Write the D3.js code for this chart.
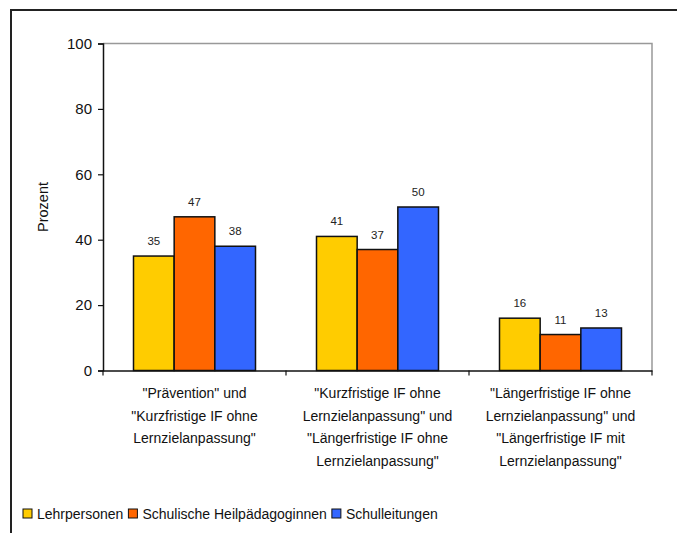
<!DOCTYPE html>
<html>
<head>
<meta charset="utf-8">
<script src="https://cdn.jsdelivr.net/npm/d3@7"></script>
<style>
  html, body { margin: 0; padding: 0; background: #fff; }
  svg { display: block; font-family: "Liberation Sans", Arial, sans-serif; }
</style>
</head>
<body>
<svg id="chart" width="677" height="533"></svg>
<script>
const categories = [
  ["\"Prävention\" und", "\"Kurzfristige IF ohne", "Lernzielanpassung\""],
  ["\"Kurzfristige IF ohne", "Lernzielanpassung\" und", "\"Längerfristige IF ohne", "Lernzielanpassung\""],
  ["\"Längerfristige IF ohne", "Lernzielanpassung\" und", "\"Längerfristige IF mit", "Lernzielanpassung\""]
];
const seriesNames = ["Lehrpersonen", "Schulische Heilpädagoginnen", "Schulleitungen"];
const lehrpersonen = [35, 41, 16];
const heilpaedagoginnen = [47, 37, 11];
const schulleitungen = [38, 50, 13];
const yTicks = [0, 20, 40, 60, 80, 100];
const colors = ["#FFCC00", "#FF6600", "#3366FF"];

const seriesValues = [lehrpersonen, heilpaedagoginnen, schulleitungen];
const svg = d3.select("#chart");

// outer frame
svg.append("rect").attr("x", 11).attr("y", 10).attr("width", 700).attr("height", 560)
  .attr("fill", "none").attr("stroke", "#222").attr("stroke-width", 2);

const m = {left: 103, top: 43.5, right: 652, bottom: 370.5};
const x0 = d3.scaleBand().domain(d3.range(categories.length)).range([m.left, m.right]).paddingInner(0).paddingOuter(0);
const x1 = d3.scaleBand().domain(d3.range(seriesNames.length)).range([0, x0.bandwidth()]).paddingInner(0).paddingOuter(0.75);
const y = d3.scaleLinear().domain([0, 100]).range([m.bottom, m.top]);

// plot area border (top/right gray)
svg.append("path")
  .attr("d", `M${m.left},${m.top}H${m.right}V${m.bottom}`)
  .attr("fill", "none").attr("stroke", "#999").attr("stroke-width", 1.5);

// bars
const groups = svg.append("g").selectAll("g").data(categories).join("g")
  .attr("transform", (d, i) => `translate(${x0(i)},0)`);
groups.each(function(d, ci) {
  const g = d3.select(this);
  seriesValues.forEach((vals, si) => {
    g.append("rect")
      .attr("x", x1(si)).attr("y", y(vals[ci]))
      .attr("width", x1.bandwidth()).attr("height", y(0) - y(vals[ci]))
      .attr("fill", colors[si]).attr("stroke", "#111").attr("stroke-width", 1.5);
    g.append("text")
      .attr("x", x1(si) + x1.bandwidth() / 2).attr("y", y(vals[ci]) - 11)
      .attr("text-anchor", "middle").attr("font-size", 11.5).attr("fill", "#222")
      .text(vals[ci]);
  });
});

// y axis
const yAxis = d3.axisLeft(y).tickValues(yTicks).tickSize(5).tickPadding(6);
const ya = svg.append("g").attr("transform", `translate(${m.left},0)`).call(yAxis);
ya.select(".domain").attr("stroke", "#111").attr("stroke-width", 1.5);
ya.selectAll(".tick line").attr("stroke", "#111").attr("stroke-width", 1.2);
ya.selectAll(".tick text").attr("font-size", 15).attr("fill", "#111")
  .attr("font-family", "Liberation Sans, Arial, sans-serif");

// x axis
const xAxis = d3.axisBottom(x0).tickSize(0).tickFormat("");
const xa = svg.append("g").attr("transform", `translate(0,${m.bottom})`).call(xAxis);
xa.select(".domain").attr("stroke", "#111").attr("stroke-width", 1.5);
xa.selectAll(".tick").remove();
const bounds = d3.range(categories.length + 1).map(i => i < categories.length ? x0(i) : x0(i - 1) + x0.bandwidth());
svg.append("g").selectAll("line").data(bounds).join("line")
  .attr("x1", d => d).attr("x2", d => d).attr("y1", m.bottom).attr("y2", m.bottom + 5)
  .attr("stroke", "#111").attr("stroke-width", 1.2);

// category labels
categories.forEach((lines, i) => {
  const t = svg.append("text").attr("text-anchor", "middle").attr("font-size", 14).attr("fill", "#111");
  lines.forEach((ln, k) => {
    t.append("tspan").attr("x", x0(i) + x0.bandwidth() / 2).attr("y", 398 + k * 22.5).text(ln);
  });
});

// y title
svg.append("text").attr("transform", `translate(48,${(m.top + m.bottom) / 2}) rotate(-90)`)
  .attr("text-anchor", "middle").attr("font-size", 14.5).attr("fill", "#111").text("Prozent");

// legend
const leg = svg.append("g").attr("transform", "translate(23,514)");
let lx = 0;
seriesNames.forEach((name, i) => {
  leg.append("rect").attr("x", lx).attr("y", -5).attr("width", 9).attr("height", 9)
    .attr("fill", colors[i]).attr("stroke", "#111").attr("stroke-width", 1);
  const t = leg.append("text").attr("x", lx + 14).attr("y", 5).attr("font-size", 14).attr("fill", "#111").text(name);
  lx += 14 + t.node().getComputedTextLength() + 5;
});
</script>
</body>
</html>
